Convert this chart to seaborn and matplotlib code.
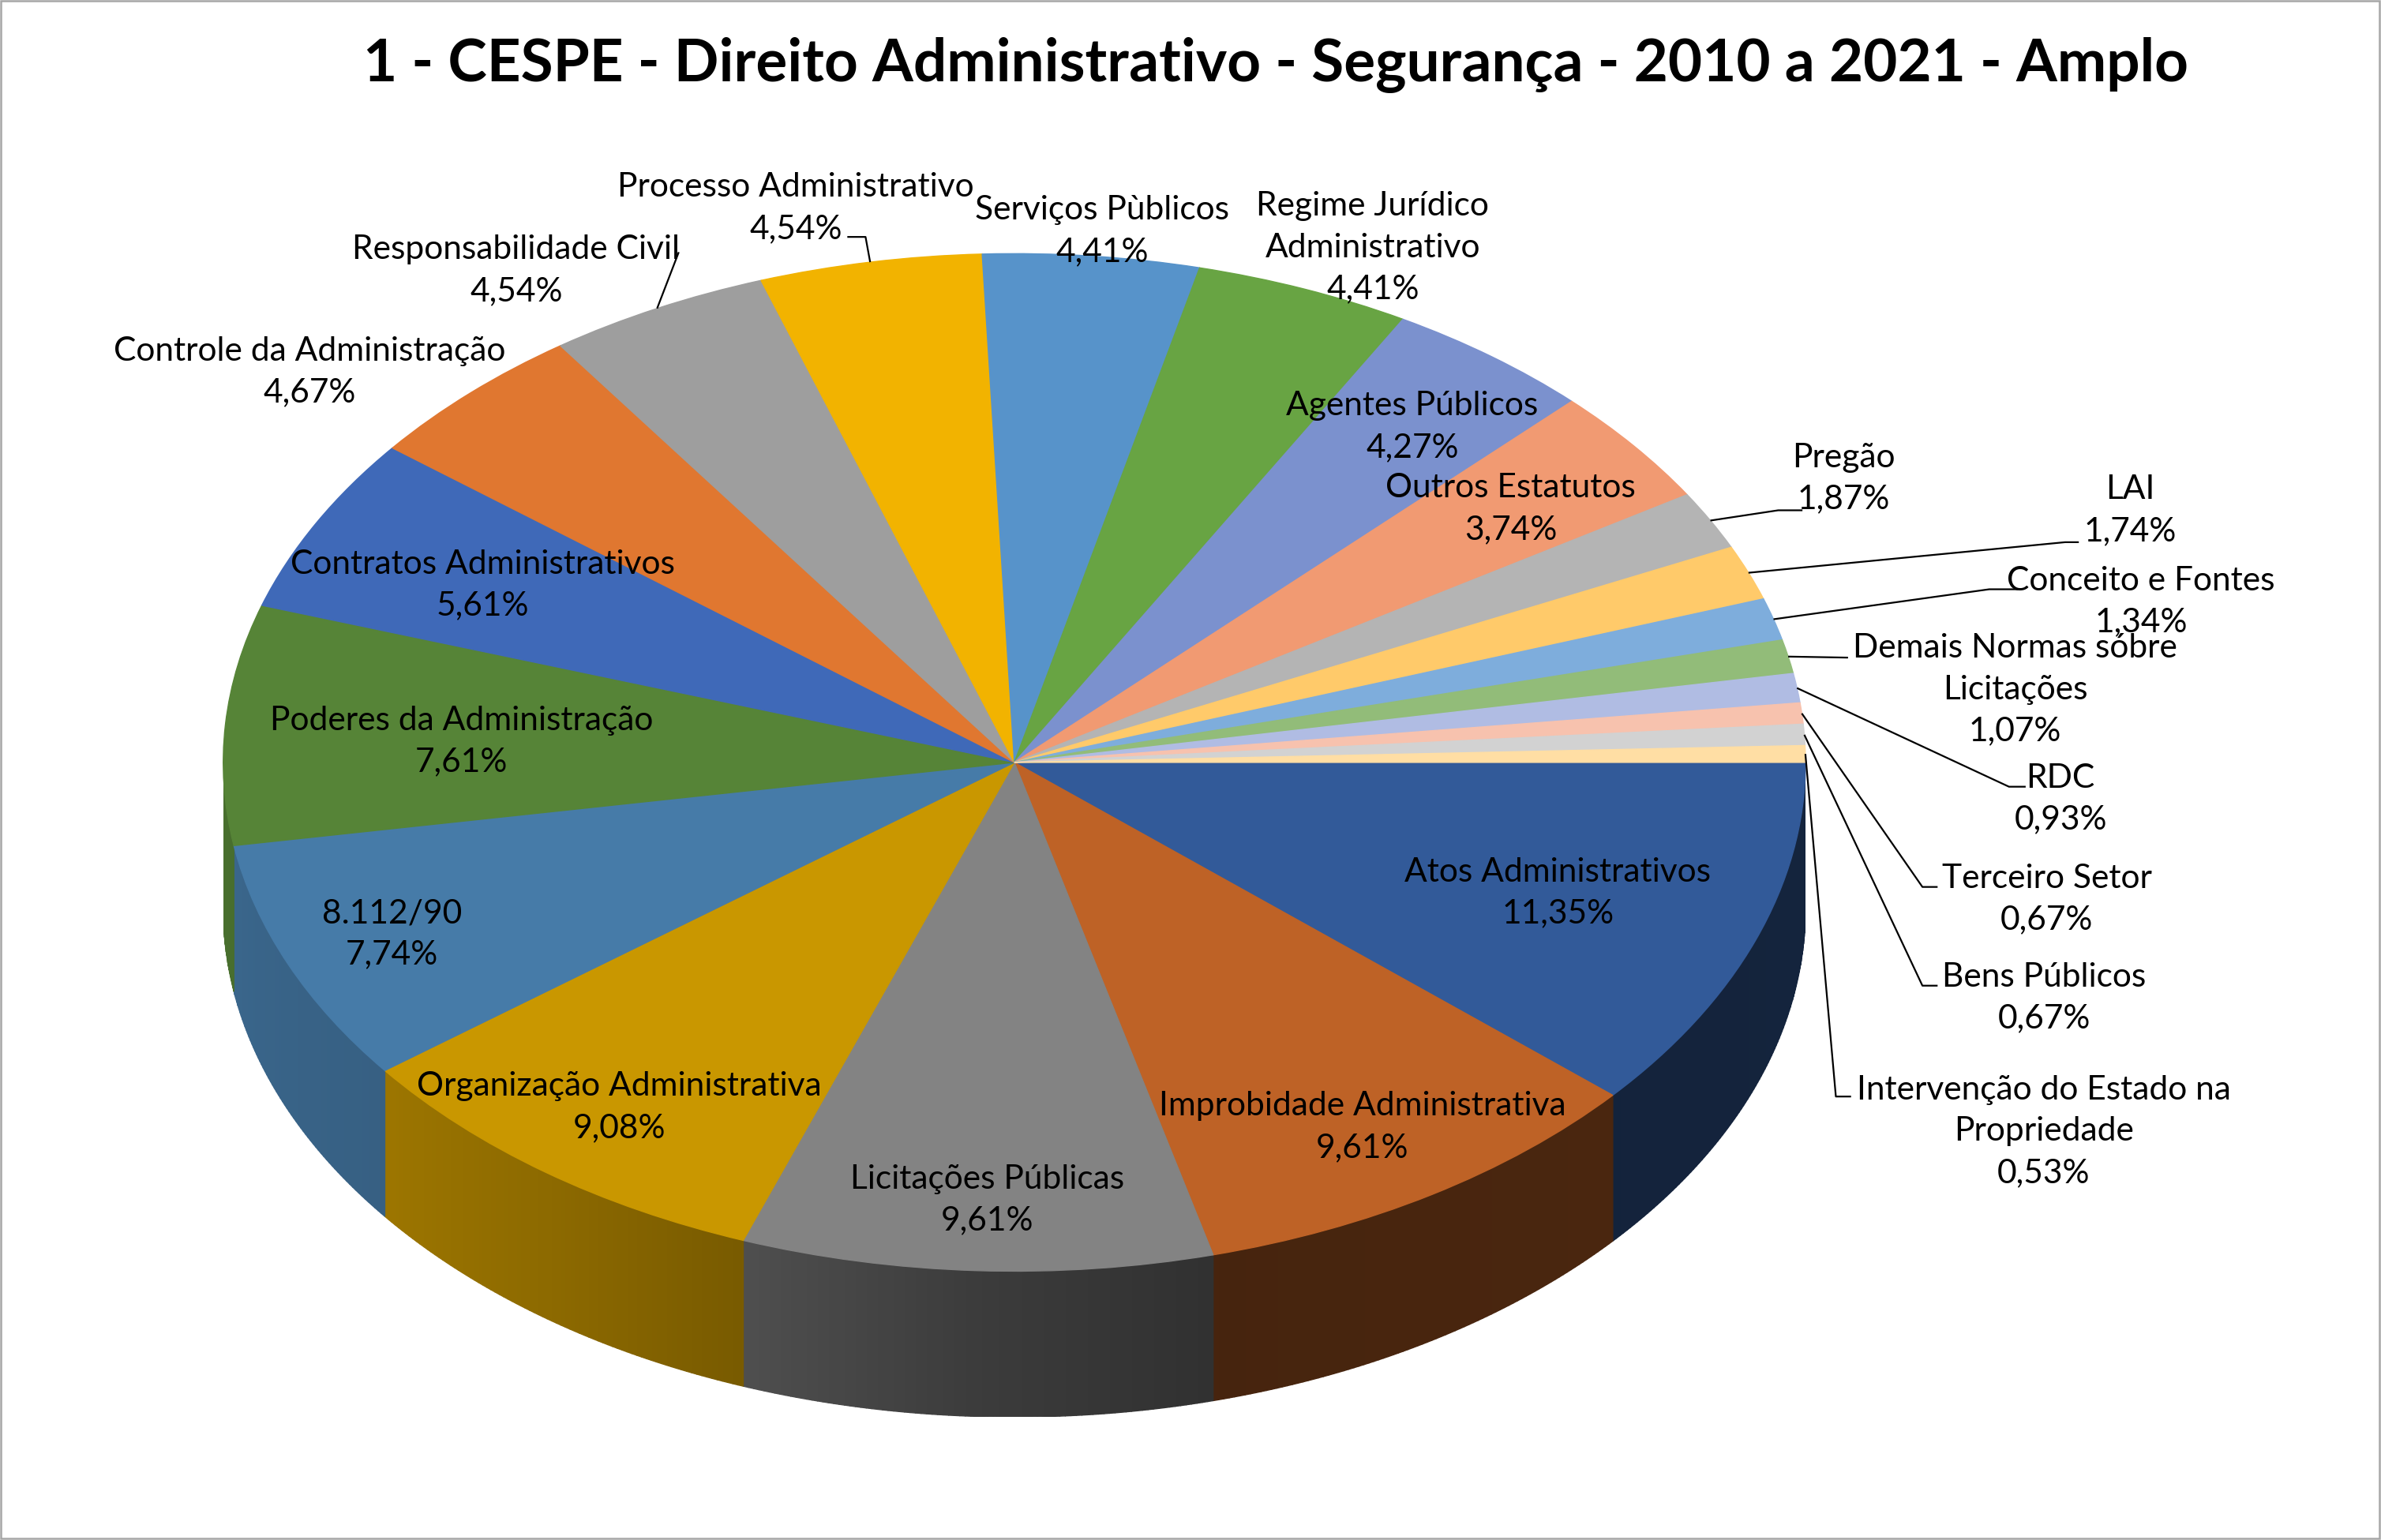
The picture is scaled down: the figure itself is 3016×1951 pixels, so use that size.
import numpy as np
import matplotlib
matplotlib.use("Agg")
import matplotlib.pyplot as plt
import matplotlib.colors as mcolors
from matplotlib.collections import PolyCollection
from matplotlib.patches import Rectangle
import seaborn as sns

# ---------------- data ----------------
title = "1 - CESPE - Direito Administrativo - Segurança - 2010 a 2021 - Amplo"
categories = [
    "Atos Administrativos", "Improbidade Administrativa", "Licitações Públicas",
    "Organização Administrativa", "8.112/90", "Poderes da Administração",
    "Contratos Administrativos", "Controle da Administração", "Responsabilidade Civil",
    "Processo Administrativo", "Serviços Pùblicos", "Regime Jurídico\nAdministrativo",
    "Agentes Públicos", "Outros Estatutos", "Pregão", "LAI", "Conceito e Fontes",
    "Demais Normas sóbre\nLicitações", "RDC", "Terceiro Setor", "Bens Públicos",
    "Intervenção do Estado na\nPropriedade",
]
percentages = [11.35, 9.61, 9.61, 9.08, 7.74, 7.61, 5.61, 4.67, 4.54, 4.54, 4.41,
               4.41, 4.27, 3.74, 1.87, 1.74, 1.34, 1.07, 0.93, 0.67, 0.67, 0.53]
colors = ["#325A99", "#BE6226", "#838383", "#C99700", "#467BA8", "#568437",
          "#3F69B8", "#E07730", "#9E9E9E", "#F2B300", "#5793CA", "#68A443",
          "#7B91CE", "#F19A72", "#B4B4B4", "#FFCA6A", "#7EADDC", "#92BC79",
          "#B0BCE3", "#F7C2AE", "#D2D2D2", "#FFDEA4"]

# ---------------- layout (reference pixel units 1568 x 1014) ----------------
W, H = 1568, 1014
CX, CY, RX, RY, DEPTH = 668, 502, 521, 335, 96
SCALE = 3016 / W
LABEL_XY = [(1026, 588), (897, 742), (650, 790), (408, 729), (258, 615), (304, 488),
            (318, 385), (204, 245), (340, 178), (524, 137), (726, 152), (904, 163),
            (930, 281), (995, 335), (1214, 315), (1403, 336), (1410, 396), (1327, 454),
            (1357, 526), (1348, 592), (1346, 657), (1346, 745)]
# leader lines: index -> (elbow_x, elbow_y, end_x)
LEADERS = {8: (447, 166, 447), 9: (570, 156, 558), 14: (1171, 336, 1187),
           15: (1360, 357, 1369), 16: (1310, 388, 1329), 17: (1217, 433, 1217),
           18: (1323, 518, 1334), 19: (1266, 584, 1276), 20: (1266, 649, 1276),
           21: (1209, 722, 1219)}
# side shading (screen angle clockwise from 3 o'clock -> brightness factor)
SHADE_ANG = [0, 40, 75, 92, 110, 126, 143, 160, 180]
SHADE_VAL = [0.40, 0.39, 0.37, 0.45, 0.60, 0.70, 0.78, 0.81, 0.85]
LINE_GAP = 29  # distance between label lines, reference px

sns.set_theme(style="white")
FONT = ["Lato", "DejaVu Sans"]
plt.rcParams["font.family"] = FONT

fig = plt.figure(figsize=(15.08, 9.755), dpi=200, facecolor="white")
ax0 = fig.add_axes([0, 0, 1, 1])
ax0.set_xlim(0, W)
ax0.set_ylim(H, 0)
ax0.axis("off")
ax0.add_patch(Rectangle((0.6, 0.6), W - 1.6, H - 1.6, fill=False,
                        edgecolor="#A6A6A6", lw=0.9))

# pie axes: unit circle -> ellipse
D = DEPTH / RY
axp = fig.add_axes([(CX - RX) / W, 1 - (CY + RY + DEPTH) / H,
                    2 * RX / W, (2 * RY + DEPTH) / H])
axp.set_zorder(1)
ax0.set_zorder(2)
ax0.patch.set_alpha(0)

vals = np.array(percentages, dtype=float)
frac = vals / vals.sum()
cum = np.concatenate([[0], np.cumsum(frac)])

# visible side wall (front half)
polys, pcols = [], []
for i in range(len(vals)):
    t0, t1 = 360 * cum[i], 360 * cum[i + 1]
    t0, t1 = max(t0, 0), min(t1, 180)
    if t1 <= t0:
        continue
    n = max(2, int((t1 - t0) / 0.4))
    ts = np.linspace(t0, t1, n + 1)
    base = np.array(mcolors.to_rgb(colors[i]))
    for ta, tb in zip(ts[:-1], ts[1:]):
        pa, pb = np.radians(-ta), np.radians(-tb)
        polys.append([(np.cos(pa), np.sin(pa)), (np.cos(pb), np.sin(pb)),
                      (np.cos(pb), np.sin(pb) - D), (np.cos(pa), np.sin(pa) - D)])
        f = np.interp((ta + tb) / 2, SHADE_ANG, SHADE_VAL)
        pcols.append(tuple(np.clip(base * f, 0, 1)))
axp.add_collection(PolyCollection(polys, facecolors=pcols, edgecolors=pcols, linewidths=0.5))

wedges, _ = axp.pie(vals, colors=colors, startangle=0, counterclock=False, radius=1,
                    wedgeprops=dict(linewidth=0.5))
for w in wedges:
    w.set_edgecolor(w.get_facecolor())
axp.set_aspect("auto")
axp.set_xlim(-1, 1)
axp.set_ylim(-1 - D, 1)
axp.axis("off")

# ---- font fitting ----
fig.canvas.draw()
renderer = fig.canvas.get_renderer()


def fit(text, target, weight="normal", base=20):
    t = ax0.text(0, 0, text, fontsize=base, fontweight=weight)
    w = t.get_window_extent(renderer).width
    t.remove()
    return base * target * SCALE / w


lab_fs = fit("Atos Administrativos", 202)
tit_fs = fit(title, 1200, weight="bold")

# measure line gap at linespacing 1.0
t1 = ax0.text(0, 0, "Ag", fontsize=lab_fs, linespacing=1.0)
t2 = ax0.text(0, 0, "Ag\nAg", fontsize=lab_fs, linespacing=1.0)
gap1 = t2.get_window_extent(renderer).height - t1.get_window_extent(renderer).height
t1.remove()
t2.remove()
lsp = LINE_GAP * SCALE / gap1

ax0.text(840, 43, title, fontsize=tit_fs, fontweight="bold", ha="center",
         va="center", color="black")

pct_text = [f"{p:.2f}%".replace(".", ",") for p in percentages]
for i, (name, pct) in enumerate(zip(categories, pct_text)):
    x, y = LABEL_XY[i]
    ax0.text(x, y, f"{name}\n{pct}", fontsize=lab_fs, ha="center", va="center",
             multialignment="center", linespacing=lsp, color="black")

for i, (ex, ey, endx) in LEADERS.items():
    mid = 360 * (cum[i] + cum[i + 1]) / 2
    sx = CX + RX * np.cos(np.radians(mid))
    sy = CY + RY * np.sin(np.radians(mid))
    ax0.plot([sx, ex, endx], [sy, ey, ey], color="black", lw=0.8,
             solid_capstyle="butt")

fig.savefig("out.png", dpi=200, facecolor="white")
